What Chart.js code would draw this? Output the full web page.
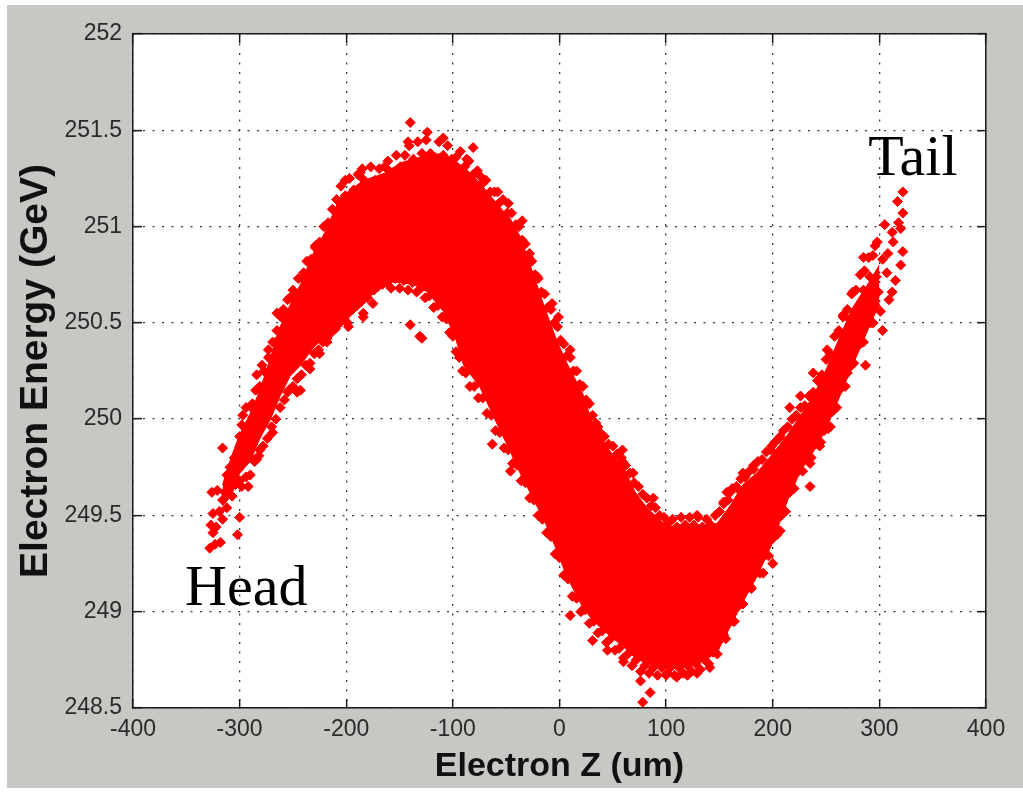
<!DOCTYPE html>
<html>
<head>
<meta charset="utf-8">
<script src="https://cdn.jsdelivr.net/npm/chart.js@4/dist/chart.umd.min.js"></script>
<style>
html,body{margin:0;padding:0;background:#ffffff;}
canvas{display:block;}
</style>
</head>
<body>
<canvas id="c" width="1023" height="793"></canvas>
<script>
// ---- tick labels ----
const zTicks = [-400, -300, -200, -100, 0, 100, 200, 300, 400];
const eTicks = [248.5, 249, 249.5, 250, 250.5, 251, 251.5, 252];

// ---- dense core of the bunch: energy band (low / high) read per z column ----
const coreZ = [-316,-308,-300,-290,-281,-271,-262,-253,-243,-231,-220,-206,-196,-184,-173,-162,-150,-137,-124,-109,-98,-90,-75,-59,-46,-37,-25,-14,-2,7,22,32,48,60,71,82,101,113,125,137,148,160,172,185,200,214,226,238,251,263,275,289,300];
const coreLow = [249.55,249.60,249.72,249.78,249.90,250.00,250.12,250.22,250.28,250.37,250.43,250.50,250.56,250.63,250.69,250.71,250.71,250.70,250.66,250.56,250.43,250.28,250.17,249.98,249.83,249.72,249.59,249.47,249.31,249.18,249.02,248.95,248.87,248.82,248.76,248.73,248.71,248.71,248.72,248.75,248.79,248.92,249.05,249.18,249.36,249.58,249.73,249.83,249.96,250.12,250.28,250.46,250.60];
const coreHigh = [249.66,249.80,249.92,250.03,250.15,250.32,250.48,250.59,250.70,250.86,250.97,251.15,251.19,251.24,251.26,251.28,251.33,251.35,251.37,251.38,251.34,251.31,251.23,251.12,251.04,250.95,250.76,250.58,250.40,250.29,250.13,249.96,249.83,249.75,249.62,249.54,249.44,249.45,249.45,249.45,249.46,249.55,249.66,249.72,249.82,249.92,250.02,250.12,250.27,250.43,250.58,250.70,250.80];

// ---- individual macro-particles [z (um), E (GeV)] ----
const headPts = [[-328,249.33],[-327,249.45],[-325,249.41],[-323,249.35],[-318,249.36],[-322,249.44],[-326,249.62],[-321,249.63],[-325,249.51],[-319,249.52],[-316,249.58],[-316,249.48],[-314,249.62],[-312,249.54],[-311,249.66],[-307,249.60],[-312,249.71],[-309,249.75],[-306,249.72],[-304,249.66],[-305,249.80],[-302,249.40],[-300,249.49],[-301,249.74],[-300,249.68],[-292,249.65],[-316,249.85],[-297,249.86],[-290,249.80],[-281,249.84],[-284,249.79],[-300,249.91],[-297,250.02],[-287,249.96],[-278,249.98],[-269,249.93],[-288,250.08],[-279,250.14],[-271,250.12],[-284,250.23],[-279,250.28],[-265,250.19],[-255,250.14],[-246,250.14],[-243,250.15],[-273,250.36],[-264,250.41],[-255,250.31],[-269,250.27],[-234,250.26],[-225,250.34],[-218,250.40],[-265,250.55],[-259,250.57],[-255,250.62],[-250,250.67],[-240,250.76],[-199,250.50],[-184,250.55],[-194,250.60],[-180,250.63],[-213,251.01],[-229,250.89],[-187,251.28],[-162,251.30]];

const upperEdge = [[-298,249.97],[-294,250.06],[-289,250.06],[-285,250.15],[-281,250.17],[-277,250.25],[-273,250.32],[-269,250.40],[-265,250.46],[-261,250.53],[-257,250.54],[-253,250.63],[-249,250.63],[-245,250.73],[-241,250.73],[-237,250.82],[-233,250.83],[-229,250.90],[-225,250.92],[-221,251.00],[-217,251.02],[-213,251.09],[-209,251.14],[-205,251.21],[-201,251.16],[-197,251.25],[-193,251.19],[-189,251.27],[-185,251.25],[-181,251.22],[-177,251.31],[-173,251.24],[-169,251.30],[-165,251.25],[-161,251.34],[-157,251.28],[-153,251.37],[-149,251.31],[-145,251.37],[-141,251.42],[-137,251.35],[-133,251.44],[-129,251.38],[-125,251.45],[-121,251.38],[-117,251.36],[-113,251.44],[-109,251.37],[-105,251.42],[-101,251.35],[-97,251.36],[-93,251.39],[-89,251.31],[-85,251.34],[-81,251.27],[-77,251.29],[-73,251.22],[-69,251.24],[-65,251.18],[-61,251.18],[-57,251.12],[-53,251.14],[-49,251.07],[-45,251.07],[-41,251.01],[-38,251.00],[-35,250.93],[-32,250.91],[-29,250.84],[-26,250.82],[-23,250.75],[-20,250.73],[-17,250.66],[-14,250.65],[-11,250.58],[-8,250.57],[-5,250.50],[-2,250.48],[1,250.41],[4,250.39],[7,250.33],[10,250.32],[13,250.25],[16,250.25],[19,250.18],[22,250.17],[25,250.10],[28,250.08],[31,250.02],[34,249.98],[38,249.93],[42,249.91],[46,249.87],[50,249.86],[54,249.82],[58,249.80],[62,249.76],[66,249.72],[70,249.67],[74,249.65],[78,249.61],[82,249.59],[86,249.55],[90,249.54],[94,249.50],[98,249.49],[102,249.46],[106,249.48],[110,249.44],[114,249.49],[118,249.45],[122,249.49],[126,249.45],[130,249.49],[134,249.44],[138,249.48],[142,249.45],[146,249.50],[150,249.52],[154,249.57],[158,249.58],[162,249.64],[166,249.65],[170,249.69],[174,249.70],[178,249.73],[182,249.74],[186,249.78],[190,249.79],[194,249.83],[198,249.84],[202,249.88],[206,249.90],[210,249.94],[214,249.96],[218,250.00],[222,250.02],[226,250.06],[230,250.07],[234,250.12],[238,250.14],[242,250.20],[246,250.23],[250,250.31],[254,250.34],[258,250.43],[262,250.46],[266,250.54],[270,250.57],[274,250.65],[278,250.67],[282,250.75],[286,250.77],[290,250.84],[294,250.85],[298,250.92]];

const lowerEdge = [[-298,249.65],[-294,249.70],[-290,249.71],[-286,249.78],[-282,249.81],[-278,249.86],[-274,249.90],[-270,249.96],[-266,250.00],[-262,250.06],[-258,250.10],[-254,250.15],[-250,250.17],[-246,250.21],[-242,250.23],[-238,250.28],[-234,250.29],[-230,250.34],[-226,250.36],[-222,250.40],[-218,250.42],[-214,250.45],[-210,250.47],[-206,250.50],[-202,250.52],[-198,250.55],[-194,250.57],[-190,250.59],[-186,250.61],[-182,250.64],[-178,250.66],[-174,250.67],[-170,250.69],[-166,250.70],[-162,250.71],[-158,250.68],[-154,250.73],[-150,250.68],[-146,250.72],[-142,250.67],[-138,250.71],[-134,250.66],[-130,250.68],[-126,250.63],[-122,250.64],[-118,250.58],[-114,250.59],[-110,250.53],[-106,250.52],[-103,250.45],[-100,250.43],[-97,250.35],[-94,250.32],[-91,250.25],[-88,250.24],[-84,250.17],[-80,250.17],[-76,250.11],[-72,250.11],[-68,250.03],[-64,250.02],[-60,249.94],[-56,249.93],[-52,249.85],[-48,249.84],[-44,249.77],[-40,249.76],[-36,249.68],[-32,249.67],[-28,249.59],[-24,249.58],[-20,249.50],[-16,249.48],[-12,249.41],[-8,249.39],[-4,249.30],[0,249.28],[4,249.19],[8,249.17],[12,249.08],[16,249.07],[20,249.00],[24,249.01],[28,248.94],[32,248.95],[36,248.89],[40,248.90],[44,248.84],[48,248.86],[52,248.80],[56,248.81],[60,248.76],[64,248.78],[68,248.72],[72,248.75],[76,248.69],[80,248.72],[84,248.68],[88,248.71],[92,248.67],[96,248.71],[100,248.67],[104,248.71],[108,248.67],[112,248.71],[116,248.68],[120,248.72],[124,248.69],[128,248.73],[132,248.70],[136,248.75],[140,248.73],[144,248.79],[148,248.78],[152,248.86],[156,248.86],[160,248.95],[164,248.95],[168,249.03],[172,249.04],[176,249.12],[180,249.12],[184,249.20],[188,249.20],[192,249.29],[196,249.29],[200,249.38],[204,249.40],[208,249.50],[212,249.52],[216,249.62],[220,249.64],[224,249.73],[228,249.73],[232,249.81],[236,249.80],[240,249.87],[244,249.86],[248,249.94],[252,249.95],[256,250.04],[260,250.06],[264,250.16],[268,250.17],[272,250.27],[276,250.29],[280,250.38],[284,250.40],[288,250.49],[292,250.50],[296,250.59]];

const tailPts = [[322,251.18],[317,251.13],[322,251.07],[305,251.01],[320,250.99],[312,250.97],[296,250.90],[322,250.87],[320,250.80],[285,250.84],[303,250.83],[291,250.74],[307,250.76],[315,250.72],[275,250.66],[285,250.67],[299,250.66],[312,250.66],[266,250.53],[279,250.57],[301,250.56],[303,250.46],[285,250.40],[287,250.28],[251,250.36],[263,250.32],[238,250.24],[260,250.20],[270,250.24],[226,250.12],[247,250.08],[216,250.06],[254,249.96],[245,249.88],[235,249.77],[235,249.65],[207,249.91],[199,249.86],[182,249.76],[172,249.72],[160,249.62],[154,249.56],[169,249.63],[223,249.80],[216,249.74],[191,249.20],[179,249.13],[200,249.25],[207,249.42],[210,249.53],[308,250.86],[313,250.92],[318,251.02],[293,250.62],[297,250.74],[289,250.52],[281,250.49],[294,250.50],[309,250.62],[276,250.42],[270,250.36],[258,250.26],[264,250.44],[272,250.52]];

const strayPts = [[-140,251.54],[-124,251.49],[-142,251.44],[-109,251.46],[-81,251.41],[-185,251.30],[-164,251.31],[-201,251.24],[-87,251.35],[-74,251.26],[-58,251.18],[-48,251.12],[-35,251.03],[-28,250.86],[-21,250.74],[-7,250.60],[-1,250.53],[-198,250.48],[-140,250.49],[-129,250.42],[-96,250.46],[-184,250.53],[-131,250.43],[-175,250.60],[-63,249.87],[-46,249.73],[59,249.84],[10,248.98],[22,249.01],[31,248.85],[45,248.80],[60,248.74],[76,248.64],[85,248.58],[78,248.53],[101,248.68],[110,248.66],[120,248.67],[129,248.68],[141,248.71],[154,248.88],[163,248.95],[10,250.36],[36,249.96],[59,249.78],[69,249.72],[88,249.59],[129,249.50],[157,249.62]];

// ---- annotations (data coordinates of text start / baseline) ----
const noteText = ['Head', 'Tail'];
const noteZ = [-351.2, 289.5];
const noteE = [249.035, 251.268];

const RED = '#ff0000';
const toXY = arr => arr.map(p => ({x: p[0], y: p[1]}));
const pointSet = arr => ({
  type: 'scatter',
  data: toXY(arr),
  pointStyle: 'rectRot',
  pointRadius: 5,
  borderWidth: 1,
  backgroundColor: RED,
  borderColor: RED,
  pointHoverRadius: 5
});

const bgPlugin = {
  id: 'bg',
  beforeDraw(chart) {
    const {ctx, chartArea: a} = chart;
    ctx.save();
    ctx.fillStyle = '#ffffff';
    ctx.fillRect(0, 0, chart.width, chart.height);
    ctx.fillStyle = '#c6c8c4';
    ctx.fillRect(7, 5, chart.width - 7, chart.height - 10);
    ctx.fillStyle = '#ffffff';
    ctx.fillRect(a.left, a.top, a.right - a.left, a.bottom - a.top);
    ctx.restore();
  }
};

const notePlugin = {
  id: 'notes',
  afterDatasetsDraw(chart) {
    const {ctx, scales} = chart;
    ctx.save();
    ctx.font = "58px 'Liberation Serif', 'Times New Roman', serif";
    ctx.fillStyle = '#000000';
    ctx.textAlign = 'left';
    ctx.textBaseline = 'alphabetic';
    noteText.forEach((t, i) => {
      ctx.fillText(t, scales.x.getPixelForValue(noteZ[i]), scales.y.getPixelForValue(noteE[i]));
    });
    ctx.restore();
  }
};

Chart.defaults.font.family = "'Liberation Sans', Arial, sans-serif";

const gridCommon = {
  color: '#3a3a3a',
  lineWidth: 1.3,
  drawTicks: true,
  tickLength: -9,
  tickColor: '#1a1a1a',
  tickWidth: 1.5
};
const borderCommon = {display: true, color: '#1a1a1a', width: 1.5, dash: [2, 7.5]};
const plainLabel = v => String(v);

new Chart(document.getElementById('c'), {
  type: 'scatter',
  data: {
    datasets: [
      {
        type: 'line',
        data: coreZ.map((z, i) => ({x: z, y: coreHigh[i]})),
        borderColor: RED, borderWidth: 1, pointRadius: 0, fill: false, tension: 0
      },
      {
        type: 'line',
        data: coreZ.map((z, i) => ({x: z, y: coreLow[i]})),
        borderColor: RED, borderWidth: 1, pointRadius: 0, fill: '-1', backgroundColor: RED, tension: 0
      },
      pointSet(headPts),
      pointSet(upperEdge),
      pointSet(lowerEdge),
      pointSet(tailPts),
      pointSet(strayPts)
    ]
  },
  options: {
    responsive: false,
    animation: false,
    events: [],
    layout: {padding: 0},
    plugins: {legend: {display: false}, tooltip: {enabled: false}},
    scales: {
      x: {
        type: 'linear', position: 'bottom', min: -400, max: 400,
        afterBuildTicks: s => { s.ticks = zTicks.map(v => ({value: v})); },
        afterFit: s => { s.height = 85; },
        ticks: {autoSkip: false, maxRotation: 0, padding: 17, color: '#2a2a2a', font: {size: 23}, callback: plainLabel},
        grid: gridCommon,
        border: borderCommon,
        title: {display: true, text: 'Electron Z (um)', color: '#111111',
                font: {size: 34, weight: 'bold'}, padding: {top: 0, bottom: 6}}
      },
      y: {
        type: 'linear', position: 'left', min: 248.5, max: 252,
        afterBuildTicks: s => { s.ticks = eTicks.map(v => ({value: v})); },
        afterFit: s => { s.width = 133; },
        ticks: {autoSkip: false, padding: 20, color: '#2a2a2a', font: {size: 23}, callback: plainLabel},
        grid: gridCommon,
        border: borderCommon,
        title: {display: true, text: 'Electron Energy (GeV)', color: '#111111',
                font: {size: 39, weight: 'bold'}, padding: {top: 13, bottom: 0}}
      },
      x2: {
        type: 'linear', position: 'top', min: -400, max: 400,
        afterBuildTicks: s => { s.ticks = zTicks.map(v => ({value: v})); },
        afterFit: s => { s.height = 34; },
        ticks: {display: false},
        grid: Object.assign({}, gridCommon, {drawOnChartArea: false}),
        border: {display: true, color: '#1a1a1a', width: 1.5}
      },
      y2: {
        type: 'linear', position: 'right', min: 248.5, max: 252,
        afterBuildTicks: s => { s.ticks = eTicks.map(v => ({value: v})); },
        afterFit: s => { s.width = 37; },
        ticks: {display: false},
        grid: Object.assign({}, gridCommon, {drawOnChartArea: false}),
        border: {display: true, color: '#1a1a1a', width: 1.5}
      }
    }
  },
  plugins: [bgPlugin, notePlugin]
});
</script>
</body>
</html>
